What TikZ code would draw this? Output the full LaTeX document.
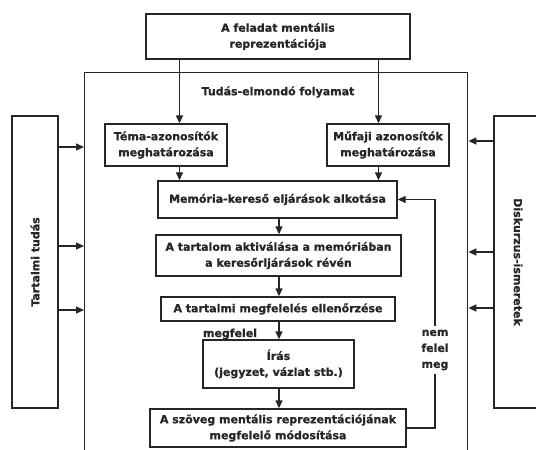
\documentclass[tikz,border=0pt]{standalone}
\usepackage{fontspec}
\setmainfont{DejaVu Sans}[BoldFeatures={FakeBold=0.8}]
\usetikzlibrary{arrows.meta}

\begin{document}
\begin{tikzpicture}[x=1pt,y=-1pt,
  every node/.style={font=\fontsize{11}{16}\selectfont\bfseries, text=black!85},
  box/.style={draw=black!85, line width=1.4pt, align=center, inner sep=0pt},
  link/.style={draw=black!85, line width=1.4pt},
  arr/.style={link, -{Triangle[length=8pt,width=7pt]}},
  lbl/.style={align=center, inner sep=1pt}]
\useasboundingbox (0,0) rectangle (536,450);
\clip (0,0) rectangle (536,450);
\fill[white] (0,0) rectangle (536,450);

% outer frame of the knowledge-telling process
\node[box, anchor=north west, minimum width=383pt, minimum height=400pt] (frame) at (84,72) {};
\node (title) at (278,92) {Tudás-elmondó folyamat};

% side boxes
\node[box, minimum width=46pt, minimum height=292pt] (know) at (35,262) {};
\node[rotate=90] at (know.center) {Tartalmi tudás};
\node[box, minimum width=52pt, minimum height=292pt] (disc) at (520,262) {};
\node[rotate=-90] at (518,262) {Diskurzus-ismeretek};

% process boxes
\node[box, minimum width=264pt, minimum height=45pt] (task) at (278,36.5) {A feladat mentális\\reprezentációja};
\node[box, minimum width=122pt, minimum height=42pt] (tema) at (166,145) {Téma-azonosítók\\meghatározása};
\node[box, minimum width=122pt, minimum height=42pt] (mufaj) at (388,145) {Műfaji azonosítók\\meghatározása};
\node[box, minimum width=239pt, minimum height=37pt] (mem) at (277.5,199.5) {Memória-kereső eljárások alkotása};
\node[box, minimum width=245pt, minimum height=41pt] (akt) at (278.5,255.5) {A tartalom aktiválása a memóriában\\a keresőrljárások révén};
\node[box, minimum width=234pt, minimum height=24pt] (ell) at (278,309) {A tartalmi megfelelés ellenőrzése};
\node[box, minimum width=151pt, minimum height=48pt] (iras) at (278.5,364) {Írás\\(jegyzet, vázlat stb.)};
\node[box, minimum width=256pt, minimum height=38pt] (mod) at (278,428) {A szöveg mentális reprezentációjának\\megfelelő módosítása};

% labels
\node[lbl] (ok) at (230,334) {megfelel};
\node[lbl, minimum height=48pt] (nok) at (435,350) {nem\\felel\\meg};

% guide columns for the two downward branches
\coordinate (cl) at (179.5,0);
\coordinate (cr) at (378.5,0);
\coordinate (cm) at (279,0);

\draw[arr] (task.south -| cl) -- (tema.north -| cl);
\draw[arr] (task.south -| cr) -- (mufaj.north -| cr);
\draw[arr] (tema.south -| cl) -- (mem.north -| cl);
\draw[arr] (mufaj.south -| cr) -- (mem.north -| cr);
\draw[arr] (mem.south -| cm) -- (akt.north -| cm);
\draw[arr] (akt.south -| cm) -- (ell.north -| cm);
\draw[arr] (ell.south -| cm) -- (iras.north -| cm);
\draw[arr] (iras.south -| cm) -- (mod.north -| cm);

% feedback loop
\draw[link] (mod.east) -| (nok.south);
\draw[arr] (nok.north) |- (mem.east);

% knowledge inputs into the process frame
\foreach \y in {147,246,310} {
  \draw[arr] (know.east |- 0,\y) -- (frame.west |- 0,\y);
}
\foreach \y in {141,252,308} {
  \draw[arr] (disc.west |- 0,\y) -- (frame.east |- 0,\y);
}
\end{tikzpicture}
\end{document}
